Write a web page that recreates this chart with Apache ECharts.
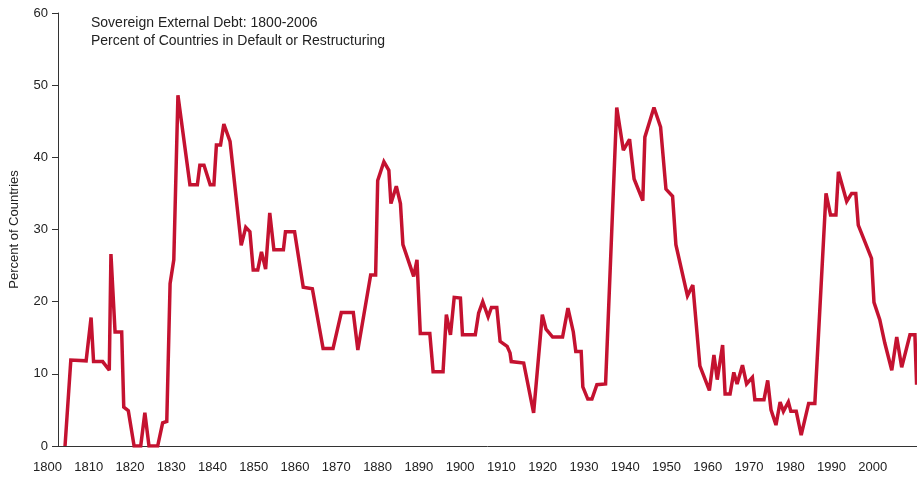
<!DOCTYPE html>
<html>
<head>
<meta charset="UTF-8" />
<title>Sovereign External Debt: 1800-2006</title>
<script src="https://cdn.jsdelivr.net/npm/echarts@6/dist/echarts.min.js"></script>
<style>
  html, body { margin: 0; padding: 0; background: #fff; }
  #chart { width: 917px; height: 483px; }
</style>
</head>
<body>
<div id="chart"></div>
<script>
// turning points of the line (year, percent of countries)
const years = [
  1804.0, 1805.4, 1809.1, 1810.3, 1810.9, 1813.1, 1814.7, 1815.1, 1816.1, 1817.7,
  1818.2, 1819.3, 1820.7, 1822.3, 1823.3, 1824.3, 1826.4, 1827.6, 1828.6, 1829.4,
  1830.3, 1831.3, 1834.2, 1836.0, 1836.6, 1837.6, 1839.1, 1840.0, 1840.6, 1841.6,
  1842.4, 1843.9, 1846.3, 1846.6, 1847.7, 1848.7, 1849.5, 1850.6, 1851.5, 1852.5,
  1853.5, 1854.5, 1856.8, 1857.3, 1859.5, 1861.6, 1863.8, 1866.4, 1868.8, 1870.8,
  1873.7, 1874.8, 1877.9, 1879.1, 1879.6, 1881.1, 1882.3, 1882.8, 1884.1, 1885.1,
  1885.7, 1888.3, 1889.1, 1889.9, 1892.2, 1893.0, 1895.4, 1896.2, 1897.2, 1898.1,
  1899.6, 1900.1, 1903.2, 1904.0, 1905.0, 1906.3, 1907.1, 1908.4, 1909.2, 1910.9,
  1911.6, 1911.9, 1914.9, 1917.3, 1919.4, 1920.3, 1921.9, 1924.3, 1925.6, 1926.9,
  1927.5, 1928.8, 1929.2, 1930.4, 1931.4, 1932.6, 1934.7, 1937.4, 1939.0, 1940.5,
  1941.6, 1943.7, 1944.2, 1946.4, 1948.0, 1949.3, 1950.9, 1951.7, 1954.5, 1955.8,
  1957.5, 1959.8, 1960.9, 1961.7, 1963.0, 1963.6, 1964.8, 1965.7, 1966.5, 1967.8,
  1968.8, 1970.2, 1970.8, 1973.0, 1973.9, 1974.7, 1975.9, 1976.9, 1977.7, 1978.9,
  1979.5, 1980.8, 1982.0, 1983.8, 1985.3, 1988.0, 1989.1, 1990.4, 1991.0, 1993.0,
  1994.2, 1995.2, 1995.8, 1999.0, 1999.6, 2001.0, 2002.2, 2003.9, 2005.1, 2006.3,
  2008.3, 2009.5, 2009.9
];
const percentInDefault = [
  0, 11.9, 11.8, 17.8, 11.7, 11.7, 10.5, 26.6, 15.8, 15.8,
  5.4, 4.9, 0, 0, 4.6, 0, 0, 3.2, 3.4, 22.5,
  25.8, 48.6, 36.2, 36.2, 38.9, 38.9, 36.2, 36.2, 41.7, 41.7,
  44.6, 42.2, 29.5, 27.8, 30.3, 29.7, 24.4, 24.4, 26.9, 24.5,
  32.3, 27.2, 27.2, 29.7, 29.7, 22.0, 21.8, 13.5, 13.5, 18.5,
  18.5, 13.3, 23.7, 23.7, 36.8, 39.4, 38.2, 33.6, 36.0, 33.6,
  27.9, 23.5, 25.8, 15.6, 15.6, 10.3, 10.3, 18.2, 15.4, 20.6,
  20.5, 15.4, 15.4, 18.4, 20.0, 17.9, 19.2, 19.2, 14.5, 13.8,
  12.9, 11.7, 11.5, 4.6, 18.2, 16.2, 15.1, 15.1, 19.1, 15.8,
  13.1, 13.1, 8.2, 6.5, 6.5, 8.5, 8.6, 46.9, 41.0, 42.5,
  37.0, 34.0, 42.8, 46.9, 44.2, 35.6, 34.6, 27.9, 20.8, 22.3,
  11.1, 7.7, 12.6, 9.2, 14.0, 7.2, 7.2, 10.2, 8.6, 11.2,
  8.6, 9.5, 6.4, 6.4, 9.1, 5.0, 2.9, 6.1, 4.8, 6.1,
  4.8, 4.8, 1.5, 5.9, 5.9, 35.0, 32.0, 32.0, 38.0, 33.9,
  35.0, 35.0, 30.6, 26.0, 19.9, 17.5, 14.3, 10.5, 15.1, 10.9,
  15.4, 15.4, 8.5
];

const xLabelMin = 1800;
const xLabelLast = 2000;
const xMax = 2010;
const xLineStart = 1802.3;   // where the drawn axes meet
const yMin = 0;
const yMax = 60;
const yStep = 10;

const titleLines = [
  'Sovereign External Debt: 1800-2006',
  'Percent of Countries in Default or Restructuring'
];
const yName = 'Percent of Countries';

const FONT = '"Liberation Sans", Arial, Helvetica, sans-serif';
const TEXT = '#222';
const AXIS = '#333';

const chart = echarts.init(document.getElementById('chart'), null, { renderer: 'canvas' });

chart.setOption({
  animation: false,
  backgroundColor: '#fff',
  title: {
    text: titleLines.join('\n'),
    left: 86,
    top: 9,
    textStyle: { fontFamily: FONT, fontSize: 14, fontWeight: 'normal', color: TEXT, lineHeight: 18 }
  },
  grid: [
    { left: 57, right: 0, top: 13, bottom: 37 },
    { left: 47.5, right: 0, top: 13, bottom: 37 }
  ],
  xAxis: [
    {
      type: 'value',
      gridIndex: 0,
      min: xLineStart,
      max: xMax,
      axisLine: { show: true, lineStyle: { color: AXIS, width: 1 } },
      axisTick: { show: false },
      axisLabel: { show: false },
      splitLine: { show: false }
    },
    {
      type: 'value',
      gridIndex: 1,
      min: xLabelMin,
      max: xMax,
      interval: 10,
      axisLine: { show: false },
      axisTick: { show: false },
      splitLine: { show: false },
      axisLabel: {
        margin: 15,
        fontFamily: FONT,
        fontSize: 13,
        color: TEXT,
        formatter: (v) => (v <= xLabelLast ? String(v) : '')
      }
    }
  ],
  yAxis: [
    {
      type: 'value',
      gridIndex: 0,
      min: yMin,
      max: yMax,
      interval: yStep,
      name: yName,
      nameLocation: 'middle',
      nameGap: 37,
      nameTextStyle: { fontFamily: FONT, fontSize: 13, color: TEXT },
      axisLine: { show: true, lineStyle: { color: AXIS, width: 1 } },
      axisTick: { show: true, length: 6, lineStyle: { color: AXIS } },
      axisLabel: { margin: 10, fontFamily: FONT, fontSize: 13, color: TEXT },
      splitLine: { show: false }
    },
    {
      type: 'value',
      gridIndex: 1,
      min: yMin,
      max: yMax,
      show: false
    }
  ],
  series: [
    {
      name: yName,
      type: 'line',
      xAxisIndex: 0,
      yAxisIndex: 0,
      showSymbol: false,
      data: years.map((y, i) => [y, percentInDefault[i]]),
      lineStyle: { color: '#c41230', width: 3.5, join: 'miter', miterLimit: 3 }
    }
  ]
});
</script>
</body>
</html>
